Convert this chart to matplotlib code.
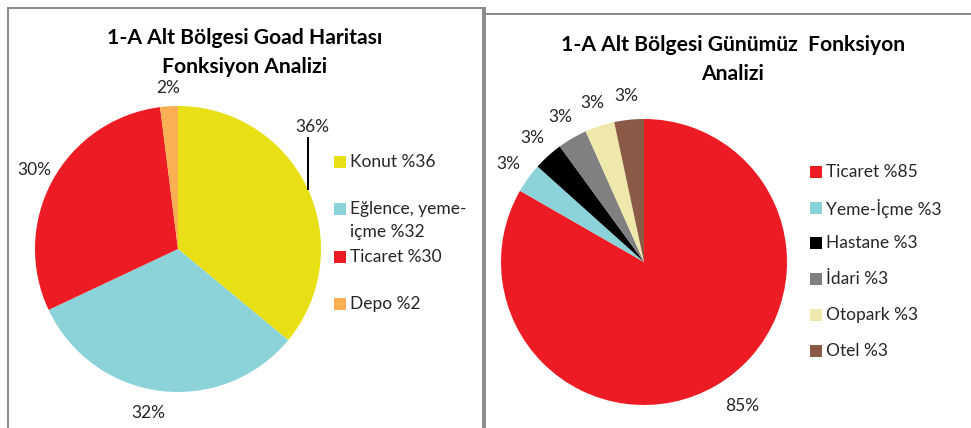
import numpy as np
import matplotlib.pyplot as plt
from matplotlib.patches import Rectangle

plt.rcParams['font.family'] = ['Lato', 'DejaVu Sans']

# left chart: 1-A Goad map functions
goad_legend = ['Konut %36', 'Eğlence, yeme-\niçme %32', 'Ticaret %30', 'Depo %2']
goad_values = [36, 32, 30, 2]
goad_pct = ['36%', '32%', '30%', '2%']
goad_colors = ['#E8DF14', '#8BD3D9', '#ED1C24', '#FAB052']

# right chart: current functions (slice sizes as drawn, labels as printed)
now_legend = ['Ticaret %85', 'Yeme-İçme %3', 'Hastane %3', 'İdari %3', 'Otopark %3', 'Otel %3']
now_values = [83.3, 3.34, 3.34, 3.34, 3.34, 3.34]
now_pct = ['85%', '3%', '3%', '3%', '3%', '3%']
now_colors = ['#ED1C24', '#8BD3D9', '#000000', '#808080', '#EEE8AA', '#8B5A46']

W, H = 971, 428
fig = plt.figure(figsize=(W / 100, H / 100), dpi=100)
ax = fig.add_axes([0, 0, 1, 1])

txt = '#262626'
fs = 12.5
px = 72 / 100.  # one pixel in points


def Y(y):
    # picture rows run downwards, axes upwards
    return H - y


def draw_pie(values, colors, pct, legend, cx, cy, dist, leg_x, leg_y, title, title_x, title_y):
    wedges, _ = ax.pie(values, colors=colors, startangle=90, counterclock=False,
                       center=(cx, Y(cy)), radius=143, frame=True,
                       wedgeprops=dict(linewidth=0))
    labs = []
    for w, s in zip(wedges, pct):
        a = np.deg2rad((w.theta1 + w.theta2) / 2.)
        t = ax.text(cx + 143 * dist * np.cos(a), Y(cy) + 143 * dist * np.sin(a), s,
                    ha='center', va='center', fontsize=fs, color=txt)
        labs.append(t)
    # legend
    for w, s, ly in zip(wedges, legend, leg_y):
        ax.add_patch(Rectangle((leg_x, Y(ly) - 6), 12, 12, facecolor=w.get_facecolor(),
                               edgecolor='none'))
        for i, line in enumerate(s.split('\n')):
            ax.text(leg_x + 16, Y(ly + i * 23), line, ha='left', va='center',
                    fontsize=fs, color=txt)
    for i, line in enumerate(title.split('\n')):
        ax.text(title_x, Y(title_y + i * 29), line, ha='center', va='center',
                fontsize=15.2, fontweight='bold', color='black')
    return wedges, labs


w1, l1 = draw_pie(goad_values, goad_colors, goad_pct, goad_legend, 178, 249, 1.15,
                  334, [162, 209, 257, 304],
                  '1-A Alt Bölgesi Goad Haritası\nFonksiyon Analizi', 245, 38)
# Konut label was moved off the slice, with a leader line
l1[0].set_position((312, Y(127)))
l1[1].set_position((148, Y(413)))
l1[3].set_position((168, Y(88)))
edge_y = 249 - np.sqrt(143 ** 2 - (308 - 178) ** 2)
ax.plot([308, 308], [Y(138), Y(edge_y)], color='black', lw=2 * px)

w2, l2 = draw_pie(now_values, now_colors, now_pct, now_legend, 644, 262, 1.17,
                  810, [172, 208, 243, 279, 315, 351],
                  '1-A Alt Bölgesi Günümüz  Fonksiyon\nAnalizi', 733, 45)
l2[0].set_position((742, Y(406)))

# panel frames
fc = '#8C8C8C'
ax.plot([7.5, 7.5, 482.5, 482.5], [0, Y(7.5), Y(7.5), 0], color=fc, lw=2 * px,
        solid_joinstyle='miter')
ax.plot([483.5, 483.5], [0, Y(7.5)], color=fc, lw=3 * px)
ax.plot([484, 971], [Y(13.5), Y(13.5)], color=fc, lw=2 * px)

ax.set_xlim(0, W)
ax.set_ylim(0, H)
ax.set_aspect('auto')
ax.axis('off')

fig.savefig('out.png', dpi=100)
